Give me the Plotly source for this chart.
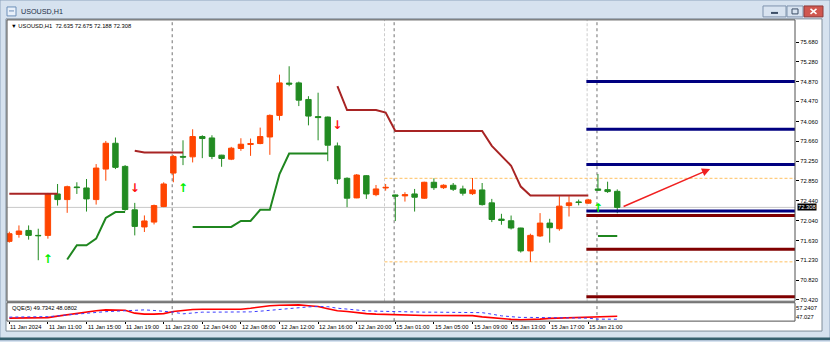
import plotly.graph_objects as go

W, H = 830, 342

symbol = "USOUSD"
timeframe = "H1"

bars = list(range(64))
opens = [71.615, 71.757, 71.838, 71.737, 71.737, 72.582, 72.467, 72.724, 72.704, 72.467,
         73.089, 73.616, 73.144, 72.258, 71.909, 72.008, 72.325, 73.008, 73.347, 73.339,
         73.753, 73.724, 73.373, 73.292, 73.509, 73.590, 73.610, 73.744, 74.184, 74.843,
         74.847, 74.509, 74.160, 74.150, 73.562, 72.901, 72.501, 72.954, 72.568, 72.704,
         72.562, 72.542, 72.582, 72.495, 72.820, 72.710, 72.759, 72.684, 72.588, 72.664,
         72.400, 72.069, 72.035, 71.887, 71.420, 71.725, 71.988, 71.873, 72.345, 72.420,
         72.394, 72.684, 72.670, 72.635]
highs = [71.812, 71.940, 71.940, 71.873, 72.603, 72.785, 72.751, 72.820, 72.887, 73.191,
         73.663, 73.733, 73.171, 72.400, 72.144, 72.365, 72.820, 73.373, 73.676, 73.901,
         73.779, 73.779, 73.380, 73.542, 73.718, 73.712, 73.935, 74.204, 75.015, 75.186,
         74.873, 74.576, 74.647, 74.160, 73.631, 72.921, 72.988, 72.968, 72.765, 72.785,
         72.570, 72.617, 72.684, 72.832, 72.901, 72.779, 72.805, 72.751, 72.907, 72.805,
         72.481, 72.177, 72.142, 71.893, 71.771, 72.191, 72.075, 72.536, 72.536, 72.467,
         72.481, 72.988, 72.832, 72.675]
lows = [71.589, 71.690, 71.650, 71.230, 71.670, 72.345, 72.197, 72.582, 72.223, 72.365,
        72.852, 73.089, 72.238, 71.737, 71.806, 71.960, 72.313, 72.820, 73.170, 73.225,
        73.312, 73.292, 73.136, 73.272, 73.461, 73.359, 73.596, 73.380, 74.082, 74.779,
        74.374, 73.981, 73.676, 73.250, 72.785, 72.313, 72.495, 72.481, 72.536, 72.649,
        72.029, 72.426, 72.223, 72.481, 72.664, 72.684, 72.643, 72.548, 72.562, 72.345,
        72.008, 71.954, 71.858, 71.386, 71.197, 71.704, 71.589, 71.832, 72.122, 72.349,
        72.380, 72.649, 72.603, 72.188]
closes = [71.771, 71.826, 71.737, 71.731, 72.582, 72.467, 72.730, 72.712, 72.481, 73.110,
          73.616, 73.124, 72.264, 71.920, 72.031, 72.345, 72.785, 73.347, 73.333, 73.753,
          73.712, 73.347, 73.306, 73.515, 73.596, 73.610, 73.753, 74.184, 74.847, 74.823,
          74.495, 74.170, 74.140, 73.576, 72.887, 72.495, 72.968, 72.582, 72.684, 72.716,
          72.536, 72.568, 72.515, 72.820, 72.710, 72.759, 72.678, 72.597, 72.664, 72.365,
          72.061, 72.041, 71.887, 71.420, 71.737, 71.988, 71.893, 72.333, 72.400, 72.408,
          72.461, 72.658, 72.630, 72.308]

# trend-stop lines (upper = bearish stop, lower = bullish stop)
upper_line = [72.584, 72.584, 72.584, 72.584, 72.584, 72.584,
              None, None, None, None, None, None, None,
              73.461, 73.428, 73.428, 73.428, 73.428, 73.428,
              None, None, None, None, None, None, None, None, None, None, None, None, None, None, None,
              74.780, 74.293, 74.293, 74.293, 74.293, 74.240,
              73.867, 73.867, 73.867, 73.867, 73.867, 73.867, 73.867, 73.867, 73.867, 73.867,
              73.563, 73.360, 73.158, 72.732,
              72.550, 72.550, 72.550, 72.550, 72.550, 72.550, 72.550,
              None, None, None]
lower_line = [None, None, None, None, None, None,
              71.246, 71.536, 71.536, 71.671, 72.091, 72.213, 72.213,
              None, None, None, None, None, None,
              71.909, 71.909, 71.909, 71.909, 71.909, 72.030, 72.030, 72.259, 72.259, 72.989,
              73.405, 73.405, 73.405, 73.405, 73.405,
              None, None, None, None, None, None, None, None, None, None, None, None, None, None,
              None, None, None, None, None, None, None, None, None, None, None, None, None,
              71.726, 71.726, 71.726]

up_arrow_bars = [4, 18, 61]
up_arrow_prices = [71.231, 72.684, 72.278]
down_arrow_bars = [13, 34]
down_arrow_prices = [72.684, 73.969]

# QQE(5) sub-window
qqe_rsi = [48.68, 48.68, 48.68, 48.68, 48.96, 49.79, 50.62, 51.44, 52.16, 52.82,
           53.27, 53.27, 53.10, 51.44, 50.89, 50.89, 51.17, 52.38, 53.10, 53.49,
           53.65, 53.65, 53.65, 53.65, 53.65, 54.20, 54.92, 55.58, 55.86, 56.03,
           56.03, 55.58, 55.14, 53.93, 52.82, 52.38, 51.72, 51.17, 50.89, 50.73,
           50.51, 50.18, 50.18, 50.18, 50.18, 50.18, 50.18, 50.18, 50.07, 49.40,
           48.85, 48.30, 47.97, 47.75, 47.86, 48.13, 48.52, 48.68, 48.68, 48.85,
           49.24, 49.51, 49.62, 49.7342]
qqe_trail = [49.24, 49.24, 49.24, 49.24, 49.51, 49.95, 50.51, 50.89, 51.44, 51.83,
             52.27, 52.55, 52.82, 53.27, 53.27, 52.93, 52.55, 52.00, 51.06, 51.72,
             52.00, 52.00, 52.00, 52.00, 52.00, 52.16, 52.55, 53.10, 53.65, 54.04,
             54.48, 54.92, 55.14, 55.03, 54.20, 53.65, 53.10, 52.71, 52.55, 52.38,
             52.38, 52.00, 52.00, 52.00, 52.00, 52.00, 52.00, 52.00, 52.00, 51.72,
             50.89, 49.95, 49.51, 49.07, 49.07, 49.07, 49.07, 49.07, 49.07, 49.07,
             48.68, 48.13, 48.10, 48.0802]
qqe_range = [47.027, 57.2407]
qqe_tick_vals = [54.59, 49.07]
qqe_tick_text = ["57.2407", "47.027"]

price_ticks = [75.680, 75.280, 74.870, 74.470, 74.060, 73.660, 73.250, 72.850,
               72.440, 72.040, 71.630, 71.230, 70.820, 70.420]
price_range = [70.394, 76.132]

time_tick_bars = [0, 4, 8, 12, 16, 20, 24, 28, 32, 36, 40, 44, 48, 52, 56, 60]
time_tick_labels = ["11 Jan 2024", "11 Jan 11:00", "11 Jan 15:00", "11 Jan 19:00",
                    "11 Jan 23:00", "12 Jan 04:00", "12 Jan 08:00", "12 Jan 12:00",
                    "12 Jan 16:00", "12 Jan 20:00", "15 Jan 01:00", "15 Jan 05:00",
                    "15 Jan 09:00", "15 Jan 13:00", "15 Jan 17:00", "15 Jan 21:00"]
bar_range = [-0.238, 81.42]

day_separators = [16.88, 39.88, 60.9]
light_separators = [38.88, 59.88]
day_levels = [72.901, 71.197]
day_levels_start = 38.88
pivot_start = 59.8
pivot_res = [74.875, 73.901, 73.185, 72.232]
pivot_sup = [72.142, 71.453, 70.487]
trend_from = (63.5, 72.313)
trend_to = (72.63, 73.09)

# ---------- helpers for window chrome (pixel -> paper) ----------
def xp(px):
    return px / W

def yp(py):
    return 1 - py / H

SMALL = dict(family="Liberation Sans, Arial, sans-serif", size=5.8, color="#000000")

fig = go.Figure()

fig.add_trace(go.Candlestick(
    x=bars, open=opens, high=highs, low=lows, close=closes,
    increasing=dict(line=dict(color="#FF4500", width=1), fillcolor="#FF4500"),
    decreasing=dict(line=dict(color="#228B22", width=1), fillcolor="#228B22"),
    whiskerwidth=0, xaxis="x", yaxis="y", showlegend=False, hoverinfo="skip"))

fig.add_trace(go.Scatter(x=bars, y=upper_line, mode="lines", connectgaps=False,
                         line=dict(color="#A82424", width=2), xaxis="x", yaxis="y",
                         showlegend=False, hoverinfo="skip"))
fig.add_trace(go.Scatter(x=bars, y=lower_line, mode="lines", connectgaps=False,
                         line=dict(color="#1F861F", width=2), xaxis="x", yaxis="y",
                         showlegend=False, hoverinfo="skip"))

# pivot levels
for lv in pivot_res:
    fig.add_trace(go.Scatter(x=[pivot_start, bar_range[1]], y=[lv, lv], mode="lines",
                             line=dict(color="#000080", width=3), xaxis="x", yaxis="y",
                             showlegend=False, hoverinfo="skip"))
for lv in pivot_sup:
    fig.add_trace(go.Scatter(x=[pivot_start, bar_range[1]], y=[lv, lv], mode="lines",
                             line=dict(color="#800000", width=3), xaxis="x", yaxis="y",
                             showlegend=False, hoverinfo="skip"))

fig.add_trace(go.Scatter(x=up_arrow_bars, y=up_arrow_prices, mode="text", text=["↑"] * len(up_arrow_bars),
                         textfont=dict(family="DejaVu Sans", size=12, color="#00EE00", weight="bold"),
                         xaxis="x", yaxis="y", showlegend=False, hoverinfo="skip"))
fig.add_trace(go.Scatter(x=down_arrow_bars, y=down_arrow_prices, mode="text", text=["↓"] * len(down_arrow_bars),
                         textfont=dict(family="DejaVu Sans", size=12, color="#FF1010", weight="bold"),
                         xaxis="x", yaxis="y", showlegend=False, hoverinfo="skip"))

fig.add_trace(go.Scatter(x=bars, y=qqe_rsi, mode="lines", line=dict(color="#FF0000", width=1.6),
                         xaxis="x2", yaxis="y2", showlegend=False, hoverinfo="skip"))
fig.add_trace(go.Scatter(x=bars, y=qqe_trail, mode="lines", line=dict(color="#3C3CFF", width=1, dash="dot"),
                         xaxis="x2", yaxis="y2", showlegend=False, hoverinfo="skip"))

shapes = []
# window chrome
shapes.append(dict(type="rect", xref="paper", yref="paper", x0=0, x1=1, y0=0, y1=1,
                   line=dict(color="#8EA4BE", width=1), fillcolor="rgba(0,0,0,0)", layer="below"))
shapes.append(dict(type="rect", xref="paper", yref="paper", x0=xp(6), x1=xp(822), y0=yp(333), y1=yp(19),
                   line=dict(color="#7F8C99", width=1), fillcolor="#FFFFFF", layer="below"))
shapes.append(dict(type="rect", xref="paper", yref="paper", x0=0, x1=1, y0=yp(342), y1=yp(339.5),
                   line=dict(width=0), fillcolor="#35606F", layer="below"))
# title icon
shapes.append(dict(type="rect", xref="paper", yref="paper", x0=xp(7), x1=xp(16), y0=yp(16), y1=yp(7),
                   line=dict(color="#6D8FB8", width=1), fillcolor="#E8F0FA", layer="above"))
shapes.append(dict(type="line", xref="paper", yref="paper", x0=xp(9), x1=xp(14), y0=yp(11), y1=yp(11),
                   line=dict(color="#6D8FB8", width=1)))
# window buttons
shapes.append(dict(type="rect", xref="paper", yref="paper", x0=xp(763), x1=xp(786), y0=yp(17), y1=yp(6),
                   line=dict(color="#7F93AD", width=1), fillcolor="#D8E3F0"))
shapes.append(dict(type="line", xref="paper", yref="paper", x0=xp(771), x1=xp(778), y0=yp(13), y1=yp(13),
                   line=dict(color="#3C4E66", width=2)))
shapes.append(dict(type="rect", xref="paper", yref="paper", x0=xp(787), x1=xp(803), y0=yp(17), y1=yp(6),
                   line=dict(color="#7F93AD", width=1), fillcolor="#D8E3F0"))
shapes.append(dict(type="rect", xref="paper", yref="paper", x0=xp(792), x1=xp(798), y0=yp(14), y1=yp(9),
                   line=dict(color="#3C4E66", width=1), fillcolor="rgba(0,0,0,0)"))
shapes.append(dict(type="rect", xref="paper", yref="paper", x0=xp(804), x1=xp(823), y0=yp(17), y1=yp(6),
                   line=dict(color="#8E3B3B", width=1), fillcolor="#D0574F"))
shapes.append(dict(type="line", xref="paper", yref="paper", x0=xp(810.5), x1=xp(816.5), y0=yp(14), y1=yp(9),
                   line=dict(color="#FFFFFF", width=1.5)))
shapes.append(dict(type="line", xref="paper", yref="paper", x0=xp(810.5), x1=xp(816.5), y0=yp(9), y1=yp(14),
                   line=dict(color="#FFFFFF", width=1.5)))

# levels below candles
shapes.append(dict(type="line", xref="x domain", yref="y", x0=0, x1=1, y0=closes[-1], y1=closes[-1],
                   line=dict(color="#C8C8C8", width=1), layer="below"))
for lv in day_levels:
    shapes.append(dict(type="line", xref="x", yref="y", x0=day_levels_start, x1=bar_range[1], y0=lv, y1=lv,
                       line=dict(color="#FFC060", width=1, dash="3px,2px"), layer="below"))
for s in day_separators:
    shapes.append(dict(type="line", xref="x", yref="y domain", x0=s, x1=s, y0=0, y1=1,
                       line=dict(color="#707070", width=1, dash="dot"), layer="below"))
    shapes.append(dict(type="line", xref="x2", yref="y2 domain", x0=s, x1=s, y0=0, y1=1,
                       line=dict(color="#707070", width=1, dash="dot"), layer="below"))
for s in light_separators:
    shapes.append(dict(type="line", xref="x", yref="y domain", x0=s, x1=s, y0=0, y1=1,
                       line=dict(color="#CCCCCC", width=1, dash="3px,2px"), layer="below"))

# panel frames
shapes.append(dict(type="rect", xref="paper", yref="paper", x0=xp(7), x1=xp(795), y0=yp(303), y1=yp(20),
                   line=dict(color="#505050", width=1), fillcolor="rgba(0,0,0,0)"))
shapes.append(dict(type="rect", xref="paper", yref="paper", x0=xp(7), x1=xp(795), y0=yp(323), y1=yp(304.5),
                   line=dict(color="#505050", width=1), fillcolor="rgba(0,0,0,0)"))

annotations = []
annotations.append(dict(xref="paper", yref="paper", x=xp(19), y=yp(12), xanchor="left", yanchor="middle",
                        text=f"{symbol},{timeframe}", showarrow=False,
                        font=dict(family="Liberation Sans, Arial, sans-serif", size=7.2, color="#1E2F46")))
annotations.append(dict(xref="paper", yref="paper", x=xp(9), y=yp(26), xanchor="left", yanchor="middle",
                        text=f"▼ {symbol},{timeframe}  {opens[-1]:.3f} {highs[-1]:.3f} {lows[-1]:.3f} {closes[-1]:.3f}",
                        showarrow=False, font=SMALL))
annotations.append(dict(xref="paper", yref="paper", x=xp(10), y=yp(310), xanchor="left", yanchor="middle",
                        text=f"QQE(5) {qqe_rsi[-1]:.4f} {qqe_trail[-1]:.4f}", showarrow=False, font=SMALL))
for b, lab in zip(time_tick_bars, time_tick_labels):
    annotations.append(dict(xref="x2", yref="paper", x=b, y=yp(328.5), xanchor="left", yanchor="middle",
                            xshift=-1, text=lab, showarrow=False, font=SMALL))
annotations.append(dict(xref="paper", yref="y", x=xp(797), y=closes[-1], xanchor="left", yanchor="middle",
                        text=f"{closes[-1]:.3f}", showarrow=False, bgcolor="#000000", borderpad=0,
                        font=dict(family="Liberation Sans, Arial, sans-serif", size=5.8, color="#FFFFFF")))
annotations.append(dict(xref="x", yref="y", x=trend_to[0], y=trend_to[1], axref="x", ayref="y",
                        ax=trend_from[0], ay=trend_from[1], showarrow=True, arrowhead=2, arrowsize=1.1,
                        arrowwidth=1.5, arrowcolor="#F02020", text=""))

fig.update_layout(
    width=W, height=H, autosize=False,
    margin=dict(l=0, r=0, t=0, b=0, pad=0),
    paper_bgcolor="#D6E2EF", plot_bgcolor="#FFFFFF",
    showlegend=False, boxgap=0.2, boxgroupgap=0.3,
    shapes=shapes, annotations=annotations,
    xaxis=dict(domain=[xp(7), xp(795)], range=bar_range, anchor="y", showticklabels=False,
               showgrid=False, zeroline=False, showline=False, ticks="", rangeslider=dict(visible=False),
               fixedrange=True),
    yaxis=dict(domain=[yp(303), yp(20)], range=price_range, side="right", anchor="x",
               tickvals=price_ticks, ticktext=[f"{v:.3f}" for v in price_ticks],
               ticks="outside", ticklen=3, tickcolor="#000000", tickfont=SMALL,
               showgrid=False, zeroline=False, showline=False, fixedrange=True),
    xaxis2=dict(domain=[xp(7), xp(795)], range=bar_range, anchor="y2", matches="x",
                tickvals=time_tick_bars, ticks="outside", ticklen=2, tickcolor="#000000",
                showticklabels=False, showgrid=False, zeroline=False, showline=False, fixedrange=True),
    yaxis2=dict(domain=[yp(323), yp(304.5)], range=qqe_range, side="right", anchor="x2",
                tickvals=qqe_tick_vals, ticktext=qqe_tick_text, ticks="", tickfont=SMALL,
                showgrid=False, zeroline=False, showline=False, fixedrange=True),
)

fig.write_html("out.html")
